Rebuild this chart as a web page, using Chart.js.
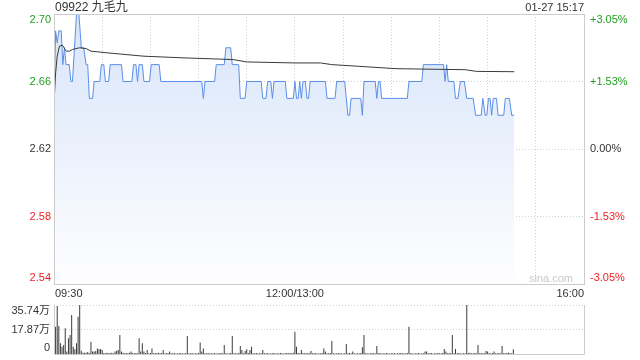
<!DOCTYPE html>
<html><head><meta charset="utf-8">
<script src="https://cdn.jsdelivr.net/npm/chart.js@4.4.0/dist/chart.umd.min.js"></script>
<style>
html,body{margin:0;padding:0;background:#fff;}
#wrap{position:relative;width:640px;height:360px;overflow:hidden;}
#c1{position:absolute;left:0;top:0;}
#c2{position:absolute;left:0;top:300px;}
</style></head><body>
<div id="wrap"><canvas id="c1" width="640" height="300"></canvas><canvas id="c2" width="640" height="60"></canvas></div>
<script>
// ---------- data ----------
const titleText = '09922 九毛九';
const dateText = '01-27 15:17';
const prevClose = 2.62;
const yTicks = [2.54, 2.58, 2.62, 2.66, 2.70];
const pctLabels = ['-3.05%', '-1.53%', '0.00%', '+1.53%', '+3.05%'];
const xGrid = [0, 30, 60, 90, 120, 150, 180, 210, 240, 270, 300, 330];
const xLabelMinutes = [0, 150, 330];
const xLabelTexts = ['09:30', '12:00/13:00', '16:00'];

// price line vertices (minutes since 09:30, trading time)
const priceTimes = [0,1,2,3,4.5,5.5,6.5,7.5,9.5,10.5,11.5,14,15.5,17,18.5,20,21,22,24,25,28.5,29.5,31,32,34,35,42,43,48.5,49.5,51,52,53,55,56,59.5,60.5,65.5,66.5,92,93,94,100,101,106,107,110,111,115,116,119,120,129,130,132,133,135,136,137,144,145,149,150,151,152,153,154,155,156.5,157.5,158.5,159.5,169,170,175,176,181,183,184,185,191,192,193,200,201,202,203,204,220,221,229,230,242.5,243.5,244.5,245.5,249,250,251.5,253,255.5,257,261,262.5,266,267,268.5,269.5,270.5,271.5,272.5,273.5,275.5,276.5,280,281,283.5,285,286.5];
const prices = [2.647,2.69,2.683,2.69,2.69,2.67,2.68,2.67,2.67,2.66,2.66,2.70,2.70,2.68,2.68,2.67,2.67,2.65,2.65,2.66,2.66,2.67,2.67,2.66,2.66,2.67,2.67,2.66,2.66,2.67,2.67,2.66,2.67,2.67,2.66,2.66,2.67,2.67,2.66,2.66,2.65,2.66,2.66,2.67,2.67,2.68,2.68,2.67,2.67,2.65,2.65,2.66,2.66,2.65,2.65,2.66,2.66,2.65,2.66,2.66,2.65,2.65,2.66,2.65,2.65,2.66,2.65,2.66,2.66,2.65,2.65,2.66,2.66,2.65,2.65,2.66,2.66,2.64,2.64,2.65,2.65,2.64,2.66,2.66,2.65,2.66,2.66,2.65,2.65,2.66,2.66,2.67,2.67,2.66,2.67,2.66,2.66,2.65,2.65,2.66,2.66,2.65,2.65,2.64,2.64,2.65,2.64,2.64,2.65,2.65,2.64,2.65,2.65,2.64,2.64,2.65,2.65,2.64,2.64];

// average price line vertices
const avgTimes = [0,1,2,3.4,5.3,7.6,9.7,11.5,16,20,23,33,56,81,111.5,120,150,166,173,190,213,256,263,286.5];
const avgPrices = [2.647,2.665,2.675,2.681,2.6815,2.678,2.678,2.679,2.680,2.6795,2.678,2.677,2.675,2.674,2.673,2.6716,2.671,2.671,2.670,2.669,2.6676,2.667,2.666,2.6658];

// volume per minute (万股)
const volMax = 35.74;
const volumes = [
11.4,19.9,35.0,20.4,7.8,5.3,6.5,18.7,1.8,11.4,
13.9,28.4,5.3,3.4,7.8,27.2,35.74,2.4,1.0,1.0,
1.0,1.5,0.8,9.0,1.8,1.8,2.2,4.1,3.4,3.6,
2.9,0.8,0.6,1.0,0.5,0.7,0.9,0.6,1.8,2.4,
2.9,13.9,1.8,1.0,0.6,0.8,0.5,0.9,1.8,0.7,
0.6,0.8,0.5,11.4,1.8,7.8,1.8,0.7,2.9,0.6,
0.8,4.1,0.5,0.7,0.6,0.9,0.5,0.8,2.9,0.6,
0.5,0.7,1.8,0.6,0.5,0.8,0.4,0.6,0.7,0.5,
0.6,0.4,0.7,13.1,0.6,0.5,0.8,0.4,0.6,0.5,
0.7,8.3,1.8,4.1,0.6,0.5,0.7,0.4,0.6,0.5,
0.8,0.4,0.6,0.5,0.7,0.6,6.6,0.5,0.4,0.6,
0.7,13.1,0.5,0.6,0.4,0.7,5.8,2.9,0.6,2.2,
3.4,0.7,2.9,5.3,0.6,0.5,0.7,0.4,0.6,0.5,
2.9,0.6,0.5,0.7,0.4,0.6,0.5,0.7,0.4,0.6,
0.5,0.7,0.6,0.4,0.5,0.7,0.6,0.8,0.5,0.9,
16.3,5.3,0.8,0.6,2.9,0.7,0.5,0.6,0.8,0.5,
2.2,0.6,0.5,0.7,0.4,0.6,0.5,0.8,4.1,1.8,
0.6,0.5,0.7,9.5,0.6,0.4,0.5,0.7,0.6,0.5,
0.4,0.6,7.3,0.5,0.7,0.6,1.8,0.5,0.4,0.6,
0.5,0.7,4.9,13.9,0.6,0.5,0.4,0.6,0.7,0.5,
0.6,5.8,0.5,0.7,0.4,0.6,0.5,0.7,0.6,0.4,
0.5,0.6,0.7,0.4,0.5,0.6,0.8,0.5,0.6,0.4,
0.7,19.9,0.6,0.5,0.4,0.6,0.5,0.7,0.4,0.6,
0.5,1.8,1.8,0.6,0.5,0.7,0.4,0.6,0.5,0.7,
0.6,0.5,0.8,3.6,1.8,0.6,0.7,0.5,13.9,0.6,
3.6,0.5,0.7,0.6,0.4,0.6,0.5,35.74,0.8,1.0,
0.6,0.5,0.7,0.6,6.6,0.5,0.7,0.6,0.5,2.2,
1.8,0.6,0.5,0.7,1.8,0.6,0.5,0.7,0.6,5.8,
0.6,0.5,0.7,1.0,0.6,0.5,3.4
];
const volTicks = [0, volMax / 2, volMax];

// ---------- styles ----------
const FONT = 'Arial, "Liberation Sans", "Noto Sans CJK SC", sans-serif';
const GREEN = '#1f9f1f', RED = '#ee2222', DARK = '#333333';
const GRID = '#d2d2d2', BORDER = '#cccccc';

function clampY(py, a) { return Math.min(Math.max(py, a.top + 6), a.bottom - 6); }

const mainPlugin = {
  id: 'mainDeco',
  afterDraw(chart) {
    const { ctx, chartArea: a, scales: { x, y } } = chart;
    ctx.save();
    ctx.strokeStyle = BORDER; ctx.lineWidth = 1; ctx.setLineDash([]);
    ctx.strokeRect(a.left + 0.5, a.top + 0.5, a.right - a.left, a.bottom - a.top);
    ctx.font = '11px ' + FONT;
    ctx.textBaseline = 'middle';
    yTicks.forEach((v, i) => {
      const py = clampY(y.getPixelForValue(v), a);
      const col = v > prevClose + 1e-9 ? GREEN : (v < prevClose - 1e-9 ? RED : DARK);
      ctx.fillStyle = col;
      ctx.textAlign = 'right';
      ctx.fillText(v.toFixed(2), a.left - 3, py);
      ctx.textAlign = 'left';
      ctx.fillText(pctLabels[i], a.right + 6, py);
    });
    ctx.fillStyle = DARK;
    xLabelMinutes.forEach((m, i) => {
      const px = x.getPixelForValue(m);
      ctx.textAlign = i === 0 ? 'left' : (i === xLabelMinutes.length - 1 ? 'right' : 'center');
      ctx.fillText(xLabelTexts[i], i === 0 ? px + 1 : px, a.bottom + 10);
    });
    ctx.textAlign = 'right';
    ctx.fillText(dateText, a.right, 8);
    ctx.font = '12px ' + FONT;
    ctx.textAlign = 'left';
    ctx.fillText(titleText, a.left + 1, 8);
    ctx.font = '11px ' + FONT;
    ctx.fillStyle = '#c8c8c8';
    ctx.textAlign = 'right';
    ctx.fillText('sina.com', a.right - 11, a.bottom - 5);
    ctx.restore();
  }
};

new Chart(document.getElementById('c1'), {
  type: 'line',
  data: {
    datasets: [
      {
        data: avgTimes.map((t, i) => ({ x: t, y: avgPrices[i] })),
        borderColor: '#3a3a3a', borderWidth: 1, pointRadius: 0, tension: 0, fill: false
      },
      {
        data: priceTimes.map((t, i) => ({ x: t, y: prices[i] })),
        borderColor: '#5a8ee8', borderWidth: 1, pointRadius: 0, tension: 0,
        fill: 'start',
        backgroundColor: (ctx) => {
          const a = ctx.chart.chartArea;
          if (!a) return 'rgba(220,232,250,1)';
          const g = ctx.chart.ctx.createLinearGradient(0, a.top, 0, a.bottom);
          g.addColorStop(0, 'rgba(216,229,250,1)');
          g.addColorStop(1, 'rgba(254,254,255,1)');
          return g;
        }
      }
    ]
  },
  options: {
    responsive: false, animation: false,
    layout: { padding: { top: 14, right: 56, left: 0, bottom: 0 } },
    plugins: { legend: { display: false }, tooltip: { enabled: false } },
    scales: {
      x: {
        type: 'linear', min: 0, max: 330,
        afterBuildTicks: s => { s.ticks = xGrid.map(v => ({ value: v })); },
        ticks: { display: false },
        grid: { color: GRID, lineWidth: 1, drawTicks: false },
        border: { display: false, dash: [1, 2] },
        afterFit: s => { s.height = 16; }
      },
      y: {
        type: 'linear', min: yTicks[0], max: yTicks[yTicks.length - 1], position: 'left',
        afterBuildTicks: s => { s.ticks = yTicks.map(v => ({ value: v })); },
        ticks: { display: false },
        grid: { color: GRID, lineWidth: 1, drawTicks: false },
        border: { display: false, dash: [1, 2] },
        afterFit: s => { s.width = 54; }
      }
    }
  },
  plugins: [mainPlugin]
});

const volPlugin = {
  id: 'volDeco',
  afterDraw(chart) {
    const { ctx, chartArea: a, scales: { y } } = chart;
    ctx.save();
    ctx.strokeStyle = BORDER; ctx.lineWidth = 1; ctx.setLineDash([]);
    ctx.beginPath();
    ctx.moveTo(a.left + 0.5, a.top); ctx.lineTo(a.left + 0.5, a.bottom + 0.5);
    ctx.lineTo(a.right + 0.5, a.bottom + 0.5); ctx.lineTo(a.right + 0.5, a.top);
    ctx.stroke();
    ctx.font = '11px ' + FONT;
    ctx.textBaseline = 'middle';
    ctx.textAlign = 'right';
    ctx.fillStyle = DARK;
    volTicks.forEach(v => {
      const py = clampY(y.getPixelForValue(v), a);
      ctx.fillText(v === 0 ? '0' : v.toFixed(2) + '万', a.left - 4, py);
    });
    ctx.restore();
  }
};

new Chart(document.getElementById('c2'), {
  type: 'bar',
  data: {
    datasets: [{
      data: volumes.map((v, i) => ({ x: i, y: v })),
      backgroundColor: '#3c3c3c', borderWidth: 0, barThickness: 1, inflateAmount: 0
    }]
  },
  options: {
    responsive: false, animation: false,
    layout: { padding: { top: 5, right: 56, left: 0, bottom: 0 } },
    plugins: { legend: { display: false }, tooltip: { enabled: false } },
    scales: {
      x: {
        type: 'linear', min: 0, max: 330, offset: false,
        ticks: { display: false },
        grid: { display: false },
        border: { display: false },
        afterFit: s => { s.height = 6; }
      },
      y: {
        type: 'linear', min: 0, max: volMax,
        afterBuildTicks: s => { s.ticks = volTicks.slice(1).map(v => ({ value: v })); },
        ticks: { display: false },
        grid: { color: GRID, lineWidth: 1, drawTicks: false },
        border: { display: false, dash: [1, 2] },
        afterFit: s => { s.width = 54; }
      }
    }
  },
  plugins: [volPlugin]
});
</script>
</body></html>
